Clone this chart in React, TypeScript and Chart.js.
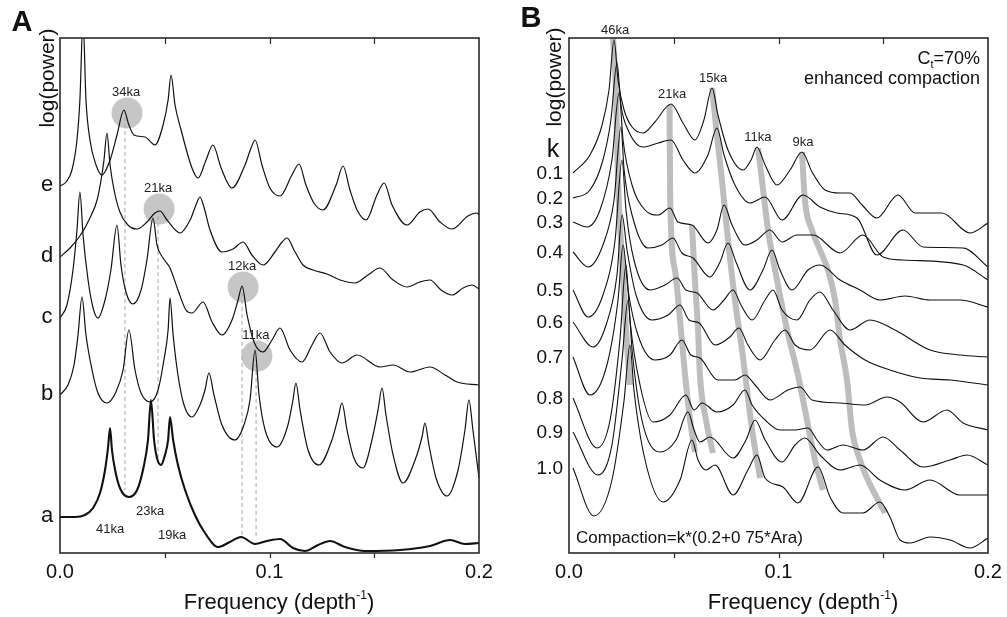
import React, { useEffect, useRef } from "react";
import { Chart, registerables } from "chart.js";
Chart.register(...registerables);

type P = [number, number];

// ---------------- Panel A data: frequency (depth^-1) vs log(power) (offset, arbitrary units)
const curveLettersA = ["e", "d", "c", "b", "a"];

const curveAe: P[] = [[0,36.7],[.0029,37.1],[.0057,38.3],[.0081,41.3],[.0095,45.3],[.011,53.3],[.0124,45.3],[.0143,41.3],[.0172,38.8],[.02,37.8],[.0239,39.3],[.0272,41.8],[.0305,44.3],[.0329,42.8],[.0353,41.8],[.0406,41.6],[.0453,40.8],[.0492,42.8],[.0516,45.3],[.053,47.8],[.0549,44.8],[.0578,42.3],[.063,38.5],[.0659,37.5],[.0697,39.3],[.073,40.8],[.0769,38.5],[.0821,36.5],[.0883,38.8],[.0912,40.5],[.0931,41.3],[.0964,38.8],[.1002,36.5],[.105,35.7],[.1107,37.8],[.1141,38.9],[.1174,36.8],[.1212,35.0],[.1255,34.3],[.1318,36.8],[.1351,38.7],[.1384,36.3],[.1418,34.3],[.1461,33.3],[.1513,35.8],[.1547,37.0],[.1585,34.8],[.1656,32.8],[.1718,34.1],[.1757,34.4],[.1814,33.1],[.1871,32.4],[.1947,33.7],[.199,34.0],[.2,33.8]];

const curveAd: P[] = [[0,29.6],[.0048,30.5],[.0095,31.7],[.0143,33.5],[.0177,35.3],[.0196,37.3],[.021,39.3],[.0224,42.0],[.0239,38.8],[.0258,36.3],[.0286,34.1],[.0324,32.8],[.0368,32.4],[.0415,33.1],[.0453,34.0],[.0477,34.2],[.0511,33.3],[.0573,32.0],[.0621,33.3],[.0649,34.8],[.0668,35.6],[.0687,34.6],[.0716,32.3],[.0773,30.1],[.0826,30.4],[.0874,31.1],[.0916,29.8],[.0969,28.8],[.1026,30.1],[.106,31.1],[.1084,31.5],[.1117,30.3],[.116,28.8],[.1208,28.3],[.1274,27.9],[.1337,27.3],[.1408,27.0],[.147,27.8],[.1527,28.5],[.159,27.3],[.1656,26.6],[.1718,27.1],[.1766,27.3],[.1819,26.3],[.1871,25.8],[.1924,26.5],[.1967,26.8],[.2,26.4]];

const curveAc: P[] = [[0,23.5],[.0033,24.8],[.0062,28.3],[.0081,32.3],[.0095,36.1],[.011,31.8],[.0134,27.3],[.0158,24.5],[.0181,23.5],[.0215,25.3],[.0243,28.3],[.0272,32.8],[.0291,28.8],[.0315,26.1],[.0348,24.9],[.0387,26.3],[.0415,29.3],[.0444,33.5],[.0463,30.8],[.0492,29.5],[.0525,28.5],[.0563,26.3],[.0601,24.3],[.063,24.0],[.0683,25.1],[.0726,23.1],[.0773,21.8],[.0821,23.3],[.085,25.3],[.0869,26.7],[.0893,23.8],[.0926,21.1],[.0969,20.1],[.1012,21.3],[.105,22.5],[.1098,20.3],[.1155,19.1],[.1203,20.8],[.1241,22.0],[.1289,20.1],[.1346,19.0],[.1418,19.8],[.1527,18.6],[.159,18.8],[.1671,18.1],[.1766,18.6],[.1838,17.8],[.1895,17.1],[.2,16.8]];

const curveAb: P[] = [[0,15.8],[.0038,16.8],[.0067,18.8],[.0086,21.8],[.0105,25.6],[.0124,21.8],[.0153,18.3],[.0181,16.0],[.0224,15.0],[.0267,16.1],[.0301,18.3],[.0329,22.3],[.0358,18.3],[.0387,16.0],[.043,15.1],[.0468,16.3],[.0496,19.3],[.0516,22.3],[.0525,25.5],[.054,21.8],[.0563,17.8],[.0592,14.8],[.063,13.6],[.0668,14.8],[.0692,16.3],[.0711,18.0],[.0735,15.8],[.0773,12.8],[.0835,11.3],[.0878,12.8],[.0907,15.3],[.0931,20.3],[.095,15.8],[.0979,12.3],[.1036,10.6],[.1088,12.8],[.1112,15.3],[.1126,17.0],[.1146,14.3],[.1184,10.3],[.1236,8.8],[.1298,11.3],[.1327,13.5],[.1346,15.0],[.137,12.3],[.1403,9.5],[.1446,8.5],[.1489,11.3],[.1518,14.3],[.1537,16.5],[.1556,13.8],[.159,9.8],[.1637,7.0],[.1695,9.3],[.1728,11.6],[.1742,13.0],[.1761,10.8],[.1795,7.5],[.1847,5.7],[.19,8.3],[.1933,12.3],[.1952,15.3],[.1971,12.3],[.2,7.5]];

const curveAa: P[] = [[0,3.6],[.0072,3.6],[.0119,3.8],[.0158,4.5],[.0191,6.0],[.0215,8.3],[.0229,10.5],[.0239,12.5],[.0248,10.3],[.0263,8.3],[.0286,6.5],[.0329,5.6],[.0368,6.3],[.0396,8.3],[.042,11.3],[.0434,15.3],[.0449,11.3],[.0463,9.5],[.0482,8.8],[.0501,9.8],[.0516,11.3],[.0525,13.6],[.054,11.3],[.0563,8.8],[.0597,6.3],[.0644,3.8],[.0692,2.0],[.0754,0.6],[.0811,1.1],[.0864,1.6],[.0931,0.9],[.0988,1.2],[.105,1.4],[.1112,0.5],[.1169,0.2],[.1232,0.8],[.1289,1.2],[.136,0.6],[.1456,0.2],[.1623,0.3],[.1766,0.7],[.1862,1.3],[.1933,0.9],[.2,1.0]];

// highlighted peaks (grey discs) and their periods
const discPeaksA: P[] = [[.032,44.0],[.0473,34.4],[.0874,26.6],[.094,19.7]];
const discLabelsA = ["34ka", "21ka", "12ka", "11ka"];
// dashed guides: [frequency, top value, bottom value]
const guideLinesA: [number, number, number][] = [[.031,44.3,6.3],[.0468,34.4,9.6],[.0869,26.7,1.6],[.0936,20.3,1.5]];
const periodLabelsA: P[] = [[.0239,2.4],[.043,4.2],[.0535,1.8]];
const periodTextsA = ["41ka", "23ka", "19ka"];

// ---------------- Panel B data
const kLabels = ["0.1","0.2","0.3","0.4","0.5","0.6","0.7","0.8","0.9","1.0"];

const curveB01: P[] = [[.0019,38.0],[.01,39.8],[.0158,42.8],[.0191,46.3],[.0215,51.3],[.0234,47.3],[.0263,44.3],[.0301,42.6],[.0353,42.0],[.041,43.1],[.0487,44.9],[.0544,43.0],[.0601,41.3],[.0644,43.3],[.0683,46.5],[.0711,43.8],[.0759,40.3],[.0831,38.3],[.0869,39.3],[.0897,40.6],[.0936,38.8],[.0993,36.8],[.1055,38.3],[.1112,40.1],[.116,38.1],[.1222,36.3],[.1294,36.0],[.1341,36.0],[.1399,34.8],[.147,33.5],[.157,35.8],[.1652,34.0],[.178,34.0],[.1914,32.0],[.2,33.0]];
const curveB02: P[] = [[.0019,35.5],[.01,36.3],[.0162,39.3],[.02,43.3],[.0229,49.0],[.0248,44.8],[.0282,42.3],[.0353,40.6],[.0425,41.0],[.0487,41.3],[.0544,39.3],[.0601,38.0],[.0663,39.8],[.0706,42.5],[.074,39.8],[.0792,36.8],[.0864,35.0],[.0936,35.6],[.1017,33.3],[.1117,35.8],[.1198,34.6],[.1279,34.0],[.1375,33.5],[.147,29.8],[.1594,32.3],[.169,30.6],[.1881,30.5],[.2,28.6]];
const curveB03: P[] = [[.0019,33.1],[.0086,32.6],[.0148,34.3],[.0205,39.3],[.0239,46.0],[.0258,41.3],[.0301,36.8],[.0363,34.3],[.0425,33.8],[.0482,34.5],[.052,33.1],[.0587,32.8],[.0663,31.0],[.0706,32.3],[.074,34.8],[.0778,32.8],[.084,30.8],[.0897,31.3],[.0959,32.3],[.1017,31.1],[.1088,31.8],[.1165,31.8],[.1294,30.0],[.1403,31.8],[.1499,29.6],[.1594,29.3],[.1881,28.8],[.2,27.3]];
const curveB04: P[] = [[.0019,30.1],[.0091,28.6],[.0162,30.8],[.0215,35.3],[.0248,42.6],[.0263,38.3],[.0301,33.8],[.0377,30.5],[.0444,30.8],[.0496,31.5],[.0539,30.0],[.0592,29.5],[.0673,27.6],[.0721,29.1],[.0759,31.0],[.0797,29.1],[.0864,26.3],[.0926,28.3],[.0969,30.3],[.1007,28.3],[.1064,26.3],[.1141,28.3],[.1198,28.8],[.1294,27.3],[.1389,26.3],[.1484,25.3],[.1604,25.7],[.1723,25.3],[.1866,25.3],[.2,24.6]];
const curveB05: P[] = [[.0019,26.3],[.0091,23.6],[.0162,25.8],[.022,31.3],[.0253,39.3],[.0272,34.3],[.031,29.3],[.0387,26.3],[.0458,26.8],[.0516,27.5],[.0558,26.3],[.0611,26.0],[.0687,24.3],[.074,25.3],[.0783,26.3],[.0821,24.8],[.0874,23.3],[.0936,25.3],[.0974,26.3],[.1017,24.3],[.1088,23.3],[.115,25.3],[.1198,26.1],[.126,24.3],[.1341,22.3],[.1437,23.3],[.1556,22.3],[.1723,20.3],[.1866,19.8],[.2,19.6]];
const curveB06: P[] = [[.0019,23.1],[.0115,20.6],[.0177,22.8],[.0229,27.8],[.0253,33.8],[.0277,30.3],[.032,25.8],[.0396,23.3],[.0473,23.8],[.053,24.8],[.0573,23.3],[.0621,23.0],[.0697,20.8],[.0768,21.6],[.0811,22.5],[.0854,20.8],[.0912,19.3],[.0983,21.3],[.1031,22.3],[.1079,20.8],[.115,20.3],[.1246,22.3],[.1317,20.8],[.1413,19.3],[.1532,18.3],[.1675,17.5],[.1819,17.3],[.2,16.8]];
const curveB07: P[] = [[.0019,19.6],[.01,15.8],[.0181,18.8],[.0234,25.3],[.0258,30.8],[.0282,26.3],[.0329,21.8],[.041,19.3],[.0482,19.8],[.0539,21.3],[.0582,19.8],[.0625,19.5],[.0711,17.3],[.0792,17.3],[.084,17.8],[.0888,16.8],[.0959,15.3],[.1045,16.3],[.1103,16.6],[.116,15.3],[.1294,15.0],[.1413,14.8],[.1518,15.6],[.158,15.1],[.169,13.1],[.1804,14.3],[.1881,13.0],[.2,12.3]];
const curveB08: P[] = [[.0019,15.5],[.0134,10.5],[.0196,13.3],[.0243,21.3],[.0272,28.8],[.0291,23.3],[.0339,16.8],[.0401,13.1],[.0482,13.8],[.0558,15.8],[.0597,14.3],[.0635,15.0],[.0706,14.1],[.0783,14.8],[.084,16.3],[.0874,14.8],[.0936,13.3],[.1007,12.3],[.1079,12.3],[.1141,12.5],[.1184,11.3],[.1231,10.3],[.1308,10.8],[.1403,10.3],[.1499,11.6],[.158,10.3],[.169,8.6],[.1819,9.3],[.19,9.8],[.2,8.8]];
const curveB09: P[] = [[.0019,12.1],[.0138,7.8],[.0205,10.8],[.0253,19.3],[.0282,25.3],[.0301,20.3],[.0348,13.3],[.0434,10.1],[.0511,11.3],[.0568,14.1],[.0597,12.3],[.0625,11.1],[.0673,11.6],[.0783,9.5],[.0845,11.3],[.0888,13.3],[.0936,11.3],[.1017,9.1],[.1079,10.8],[.1126,11.5],[.1198,9.8],[.1294,8.3],[.1389,8.8],[.1484,7.3],[.1604,6.3],[.1723,7.3],[.1866,5.8],[.2,5.8]];
const curveB10: P[] = [[.0019,8.5],[.0119,3.7],[.0205,7.3],[.0263,15.3],[.0291,20.8],[.031,16.3],[.0363,9.3],[.0449,5.1],[.053,7.3],[.0587,11.3],[.0616,9.3],[.0654,8.3],[.0697,8.8],[.0783,5.8],[.0854,8.3],[.0897,9.8],[.0936,7.5],[.1021,6.6],[.1093,5.0],[.1189,8.6],[.1246,5.6],[.1308,4.0],[.1403,4.0],[.1484,5.1],[.1532,3.6],[.158,1.3],[.1628,1.0],[.1723,1.6],[.1819,1.3],[.1914,0.5],[.2,1.5]];

// grey tracks following the peaks as compaction increases
const track46: P[] = [[.021,51.5],[.0224,46.3],[.0234,37.3],[.0253,29.3],[.0272,22.3],[.0291,16.8]];
const track21: P[] = [[.048,44.8],[.0483,35.3],[.0506,28.3],[.053,23.3],[.0554,17.8],[.0578,13.3],[.0601,10.1]];
const track21b: P[] = [[.0587,32.8],[.0601,27.3],[.0616,22.3],[.0625,17.8],[.0654,13.3],[.0687,10.0]];
const track15: P[] = [[.0683,46.5],[.0706,41.8],[.073,37.3],[.0759,31.3],[.0792,25.3],[.0826,20.3],[.085,16.3],[.0874,12.3],[.0912,7.5]];
const track11: P[] = [[.0902,40.5],[.0921,37.3],[.095,32.3],[.0993,27.3],[.1041,22.3],[.1093,17.8],[.1136,13.3],[.1174,9.3],[.1212,6.3]];
const track9: P[] = [[.1112,40.1],[.1126,35.3],[.116,32.3],[.1198,30.3],[.1236,28.3],[.127,25.3],[.1294,21.3],[.1327,17.3],[.1351,12.3],[.1389,9.3],[.1427,7.3],[.1508,4.0]];

const peakLabelPtsB: P[] = [[.0215,51.3],[.0487,44.9],[.0683,46.5],[.0897,40.6],[.1112,40.1]];
const peakLabelTextsB = ["46ka", "21ka", "15ka", "11ka", "9ka"];

const minorTicks = [0.05, 0.1, 0.15];
const tickLabelValues = [0, 0.1, 0.2];

// ---------------- helpers
const FONT = '"Liberation Sans", Arial, Helvetica, sans-serif';
const xy = (a: P[]) => a.map(([x, y]) => ({ x, y }));

function curve(data: P[], width = 1.15, color = "#111") {
  return {
    data: xy(data),
    borderColor: color,
    borderWidth: width,
    pointRadius: 0,
    fill: false,
    cubicInterpolationMode: "monotone" as const,
    order: 0,
  };
}

function drawAxes(chart: any, titleCenter: number) {
  const { ctx, chartArea: ca, scales } = chart;
  const xs = scales.x;
  ctx.save();
  ctx.strokeStyle = "#2a2a2a";
  ctx.lineWidth = 1.6;
  ctx.strokeRect(ca.left, ca.top, ca.right - ca.left, ca.bottom - ca.top);
  ctx.lineWidth = 1.2;
  ctx.beginPath();
  for (const t of minorTicks) {
    const x = Math.round(xs.getPixelForValue(t)) + 0.5;
    ctx.moveTo(x, ca.top);
    ctx.lineTo(x, ca.top + 6);
    ctx.moveTo(x, ca.bottom);
    ctx.lineTo(x, ca.bottom + 5);
  }
  ctx.stroke();
  ctx.fillStyle = "#111";
  ctx.font = `20px ${FONT}`;
  ctx.textAlign = "center";
  ctx.textBaseline = "alphabetic";
  for (const t of tickLabelValues) ctx.fillText(t.toFixed(1), xs.getPixelForValue(t), ca.bottom + 25);
  // x title with superscript
  const main = "Frequency (depth";
  const sup = "-1";
  const end = ")";
  ctx.font = `22px ${FONT}`;
  const w1 = ctx.measureText(main).width;
  const w3 = ctx.measureText(end).width;
  ctx.font = `12px ${FONT}`;
  const w2 = ctx.measureText(sup).width;
  const total = w1 + w2 + w3;
  let x0 = ca.left + titleCenter - total / 2;
  const base = ca.bottom + 56;
  ctx.textAlign = "left";
  ctx.font = `22px ${FONT}`;
  ctx.fillText(main, x0, base);
  ctx.font = `12px ${FONT}`;
  ctx.fillText(sup, x0 + w1, base - 10);
  ctx.font = `22px ${FONT}`;
  ctx.fillText(end, x0 + w1 + w2, base);
  ctx.restore();
}

function drawRotated(ctx: CanvasRenderingContext2D, text: string, x: number, y: number, font: string) {
  ctx.save();
  ctx.translate(x, y);
  ctx.rotate(-Math.PI / 2);
  ctx.font = font;
  ctx.textAlign = "center";
  ctx.textBaseline = "middle";
  ctx.fillText(text, 0, 0);
  ctx.restore();
}

const curvesA = [curveAe, curveAd, curveAc, curveAb, curveAa];
const curvesB = [curveB01, curveB02, curveB03, curveB04, curveB05, curveB06, curveB07, curveB08, curveB09, curveB10];

const plotA = {
  id: "panelA",
  afterDraw(chart: any) {
    const { ctx, chartArea: ca, scales } = chart;
    const xs = scales.x, ys = scales.y;
    drawAxes(chart, 219);
    ctx.save();
    ctx.fillStyle = "#111";
    ctx.font = `bold 29px ${FONT}`;
    ctx.textAlign = "center";
    ctx.textBaseline = "middle";
    ctx.fillText("A", 22, 23);
    drawRotated(ctx, "log(power)", ca.left - 12, 78, `21px ${FONT}`);
    ctx.font = `22px ${FONT}`;
    ctx.textAlign = "center";
    ctx.textBaseline = "middle";
    curvesA.forEach((c, i) => ctx.fillText(curveLettersA[i], ca.left - 13, ys.getPixelForValue(c[0][1]) - 1));
    ctx.fillStyle = "#222";
    ctx.font = `13px ${FONT}`;
    discPeaksA.forEach((p, i) => ctx.fillText(discLabelsA[i], xs.getPixelForValue(p[0]) - 1, ys.getPixelForValue(p[1]) - 21));
    periodLabelsA.forEach((p, i) => ctx.fillText(periodTextsA[i], xs.getPixelForValue(p[0]), ys.getPixelForValue(p[1])));
    ctx.restore();
  },
};

const plotB = {
  id: "panelB",
  afterDraw(chart: any) {
    const { ctx, chartArea: ca, scales } = chart;
    const xs = scales.x, ys = scales.y;
    drawAxes(chart, 234);
    ctx.save();
    ctx.fillStyle = "#111";
    ctx.font = `bold 29px ${FONT}`;
    ctx.textAlign = "center";
    ctx.textBaseline = "middle";
    ctx.fillText("B", 28, 19);
    drawRotated(ctx, "log(power)", ca.left - 14, 77, `21px ${FONT}`);
    ctx.font = `25px ${FONT}`;
    ctx.fillText("k", ca.left - 16, 150);
    ctx.font = `19px ${FONT}`;
    ctx.textAlign = "right";
    curvesB.forEach((c, i) => ctx.fillText(kLabels[i], ca.left - 6, ys.getPixelForValue(c[0][1]) + 1));
    // peak period labels
    ctx.fillStyle = "#222";
    ctx.font = `13px ${FONT}`;
    ctx.textAlign = "center";
    peakLabelPtsB.forEach((p, i) => ctx.fillText(peakLabelTextsB[i], xs.getPixelForValue(p[0]) + 1, ys.getPixelForValue(p[1]) - 10));
    // top-right notes
    ctx.fillStyle = "#111";
    ctx.font = `18px ${FONT}`;
    ctx.textAlign = "right";
    ctx.textBaseline = "alphabetic";
    const rx = ca.right - 8;
    const tail = "=70%";
    const wt = ctx.measureText(tail).width;
    ctx.fillText(tail, rx, 64);
    ctx.font = `11px ${FONT}`;
    const ws = ctx.measureText("t").width;
    ctx.fillText("t", rx - wt, 68);
    ctx.font = `18px ${FONT}`;
    ctx.fillText("C", rx - wt - ws, 64);
    ctx.fillText("enhanced compaction", rx, 84);
    ctx.textAlign = "left";
    ctx.font = `17px ${FONT}`;
    ctx.fillText("Compaction=k*(0.2+0 75*Ara)", ca.left + 7, ca.bottom - 10);
    ctx.restore();
  },
};

function baseOptions(pad: { left: number; right: number; top: number; bottom: number }) {
  return {
    responsive: false,
    animation: false as const,
    devicePixelRatio: 1,
    events: [] as any[],
    layout: { padding: pad },
    plugins: { legend: { display: false }, tooltip: { enabled: false } },
    scales: {
      x: { type: "linear" as const, min: 0, max: 0.2, display: false },
      y: { type: "linear" as const, min: 0, max: 51.5, display: false },
    },
  };
}

export default function App() {
  const refA = useRef<HTMLCanvasElement>(null);
  const refB = useRef<HTMLCanvasElement>(null);

  useEffect(() => {
    const dsA: any[] = [
      ...[curveAe, curveAd, curveAc, curveAb].map((c) => curve(c, 1.2)),
      curve(curveAa, 2.1),
      ...guideLinesA.map(([f, top, bot]) => ({
        data: [{ x: f, y: top }, { x: f, y: bot }],
        borderColor: "#a8a8a8",
        borderWidth: 1,
        borderDash: [4, 3],
        pointRadius: 0,
        fill: false,
        order: 1,
      })),
      {
        data: xy(discPeaksA),
        showLine: false,
        pointRadius: 15.5,
        pointBackgroundColor: "#c6c6c6",
        pointBorderWidth: 0,
        order: 2,
      },
    ];
    const grey = (t: P[]) => ({
      data: xy(t),
      borderColor: "#bdbdbd",
      borderWidth: 6,
      pointRadius: 0,
      fill: false,
      cubicInterpolationMode: "monotone" as const,
      order: 2,
    });
    const dsB: any[] = [
      ...curvesB.map((c) => curve(c, 1.1)),
      ...[track46, track21, track21b, track15, track11, track9].map(grey),
    ];
    const a = new Chart(refA.current!, {
      type: "line",
      data: { datasets: dsA },
      options: baseOptions({ left: 60, right: 24, top: 38, bottom: 64 }) as any,
      plugins: [plotA],
    });
    const b = new Chart(refB.current!, {
      type: "line",
      data: { datasets: dsB },
      options: baseOptions({ left: 66, right: 19, top: 38, bottom: 64 }) as any,
      plugins: [plotB],
    });
    return () => {
      a.destroy();
      b.destroy();
    };
  }, []);

  return (
    <div style={{ position: "absolute", left: 0, top: 0, width: 1007, height: 617, background: "#fff" }}>
      <canvas ref={refA} width={503} height={617} style={{ position: "absolute", left: 0, top: 0, width: 503, height: 617 }} />
      <canvas ref={refB} width={504} height={617} style={{ position: "absolute", left: 503, top: 0, width: 504, height: 617 }} />
    </div>
  );
}
